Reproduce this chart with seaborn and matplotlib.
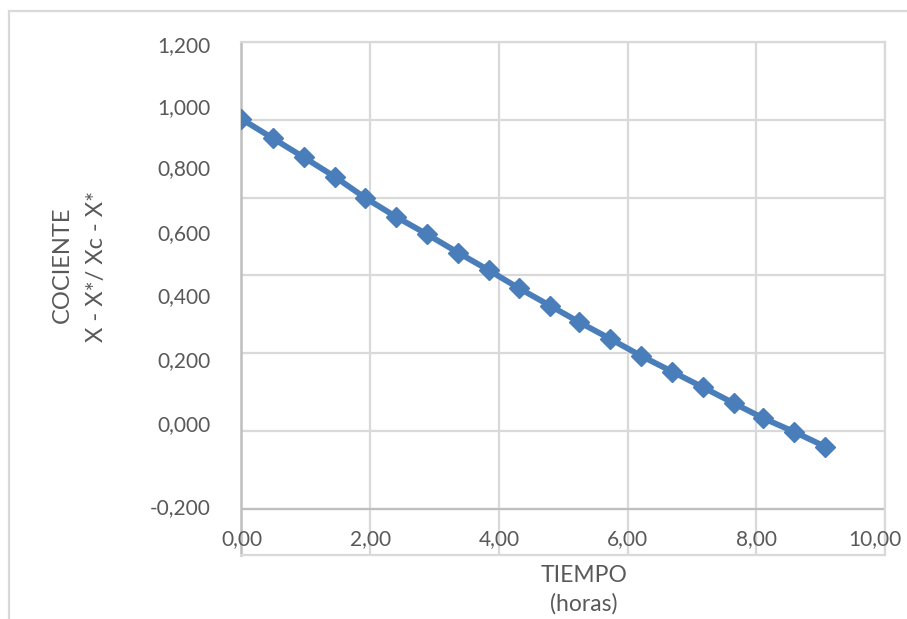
import matplotlib
matplotlib.use("Agg")
import matplotlib.pyplot as plt
import matplotlib.transforms as mtransforms
from matplotlib.patches import Rectangle
import numpy as np
import pandas as pd
import seaborn as sns

# ---- data ----
tiempo = [0.00, 0.49, 0.97, 1.45, 1.92, 2.40, 2.88, 3.37, 3.84, 4.31,
          4.79, 5.25, 5.73, 6.21, 6.69, 7.17, 7.65, 8.11, 8.58, 9.07]
cociente = [0.969, 0.911, 0.854, 0.796, 0.733, 0.676, 0.624, 0.568, 0.516, 0.462,
            0.410, 0.360, 0.310, 0.259, 0.212, 0.165, 0.117, 0.072, 0.032, -0.013]

x_ticks = [0, 2, 4, 6, 8, 10]
x_tick_labels = ["0,00", "2,00", "4,00", "6,00", "8,00", "10,00"]
y_tick_labels = ["1,200", "1,000", "0,800", "0,600", "0,400", "0,200", "0,000", "-0,200"]
y_tick_pos = [1.194, 1.008, 0.825, 0.630, 0.442, 0.250, 0.058, -0.191]

df = pd.DataFrame({"tiempo": tiempo, "cociente": cociente})

sns.set_theme(style="white")
plt.rcParams["font.family"] = ["Lato", "DejaVu Sans"]

W, H = 907, 619
fig = plt.figure(figsize=(W / 100, H / 100), dpi=100)
left, right, top, bottom = 241.5, 885, 42, 555
ax = fig.add_axes([left / W, 1 - bottom / H, (right - left) / W, (bottom - top) / H])

BLUE = "#4a7ebb"
TXT = "#595959"
GRID = "#d9d9d9"
AXC = "#bfbfbf"

sns.lineplot(data=df, x="tiempo", y="cociente", ax=ax, sort=False,
             color=BLUE, linewidth=4.2, marker="D", markersize=10.5,
             markeredgecolor=BLUE, markeredgewidth=1, zorder=5)

ax.set_xlim(0, 10)
ax.set_ylim(-0.338, 1.2)

# x gridlines
ax.set_xticks(x_ticks)
ax.set_xticklabels([""] * len(x_ticks))
ax.tick_params(axis="both", which="both", length=0)
ax.grid(axis="x", color=GRID, linewidth=1.6)

# y gridlines on minor ticks, labels on major ticks
ax.set_yticks(np.linspace(-0.2, 1.2, 7), minor=True)
ax.set_yticks(y_tick_pos)
ax.set_yticklabels(y_tick_labels, fontsize=15, color=TXT)
ax.tick_params(axis="y", pad=22)
ax.grid(axis="y", which="minor", color=GRID, linewidth=1.6)
ax.grid(axis="y", which="major", visible=False)
ax.axhline(-0.2, color=AXC, linewidth=1.6, zorder=1)

for s in ["top", "right", "bottom"]:
    ax.spines[s].set_color(GRID)
    ax.spines[s].set_linewidth(1.6)
ax.spines["left"].set_color(AXC)
ax.spines["left"].set_linewidth(1.8)

# x tick labels inside the lower strip
trans = mtransforms.blended_transform_factory(ax.transData, ax.transAxes)
for i, (xv, lab) in enumerate(zip(x_ticks, x_tick_labels)):
    is_last = i == len(x_ticks) - 1
    ax.text(xv + (0.25 if is_last else 0), 0.031, lab, transform=trans,
            ha="right" if is_last else "center", va="center",
            fontsize=15, color=TXT, zorder=6)

ax.set_xlabel("")
ax.set_ylabel("")

# axis titles
fig.text(584 / W, 1 - 576 / H, "TIEMPO", ha="center", va="center", fontsize=16.5, color=TXT)
fig.text(584 / W, 1 - 604 / H, "(horas)", ha="center", va="center", fontsize=16.5, color=TXT)
fig.text(62 / W, 1 - 265 / H, "COCIENTE", ha="center", va="center", rotation=90,
         fontsize=17, color=TXT)
fig.text(97 / W, 1 - 266 / H, "X - X*/ Xc - X*", ha="center", va="center", rotation=90,
         fontsize=17, color=TXT)

# outer chart border (left and top visible)
fig.patches.append(Rectangle((9 / W, -0.5), 2, (1 - 11 / H) + 0.5, transform=fig.transFigure,
                             fill=False, edgecolor=GRID, linewidth=1.6))

fig.savefig("out.png", dpi=100, facecolor="white")
